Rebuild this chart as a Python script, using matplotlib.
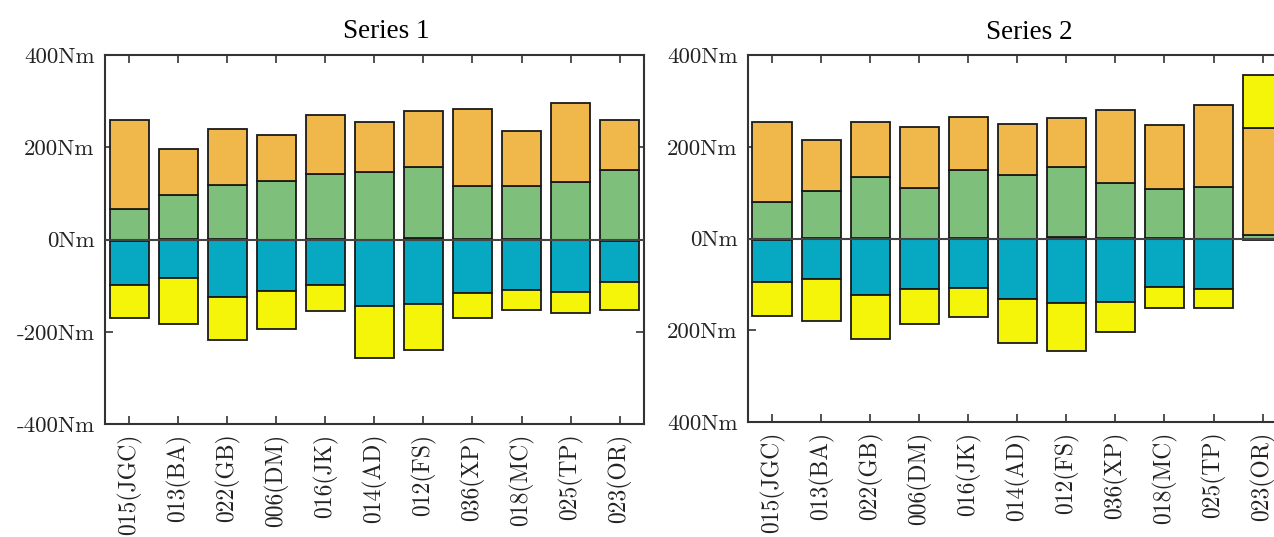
import numpy as np
import matplotlib
matplotlib.use('Agg')
import matplotlib.pyplot as plt

plt.rcParams['font.family'] = ['cmr10', 'DejaVu Serif']
plt.rcParams['axes.formatter.use_mathtext'] = True

# ---- data (segment heights, Nm) ----
labels = ['015(JGC)', '013(BA)', '022(GB)', '006(DM)', '016(JK)', '014(AD)',
          '012(FS)', '036(XP)', '018(MC)', '025(TP)', '023(OR)']

dark1 = [-4, 1, 1, 0, 1, 0, 3, 1, 1, 0, -3]
green1 = [66, 95, 117, 126, 140, 147, 155, 116, 116, 125, 151]
orange1 = [192, 101, 122, 101, 129, 107, 121, 166, 118, 170, 108]
cyan1 = [-95, -83, -125, -112, -99, -144, -140, -116, -109, -114, -89]
yellow1 = [-71, -100, -92, -83, -57, -113, -99, -54, -43, -46, -60]

dark2 = [-4, 1, 1, 0, 1, 0, 3, 1, 1, 0, -4]
green2 = [79, 102, 133, 110, 148, 139, 153, 120, 107, 113, 8]
orange2 = [176, 112, 121, 134, 116, 111, 108, 160, 139, 179, 233]
cyan2 = [-91, -88, -124, -110, -107, -131, -141, -139, -105, -110, 0]
yellow2 = [-74, -91, -95, -77, -65, -97, -104, -65, -47, -42, 115]

yticks = [-400, -200, 0, 200, 400]
ytick_labels1 = ['-400Nm', '-200Nm', '0Nm', '200Nm', '400Nm']
ytick_labels2 = ['400Nm', '200Nm', '0Nm', '200Nm', '400Nm']

colors = ['#111111', '#7DBF7B', '#F0B74A', '#07A8C2', '#F5F50A']


def stacked(ax, segs):
    x = np.arange(1, len(labels) + 1)
    pos = np.zeros(len(x))
    neg = np.zeros(len(x))
    for vals, c in zip(segs, colors):
        v = np.array(vals, dtype=float)
        bottom = np.where(v >= 0, pos, neg)
        ax.bar(x, v, 0.8, bottom=bottom, color=c, edgecolor='#1a1a1a',
               linewidth=1.3, zorder=2)
        pos = np.where(v >= 0, pos + v, pos)
        neg = np.where(v < 0, neg + v, neg)
    ax.axhline(0, color='#444444', lw=1.5, zorder=3)
    ax.set_xlim(0.5, 11.5)
    ax.set_ylim(-400, 400)
    ax.set_xticks(x)
    ax.set_xticklabels(labels, rotation=90)
    ax.set_yticks(yticks)
    ax.tick_params(direction='in', top=True, right=True, length=6,
                   width=1.2, labelsize=16.5, colors='#333333',
                   labelcolor='#222222')
    ax.tick_params(axis='y', pad=7)
    ax.tick_params(axis='x', pad=7, labelsize=17)
    for s in ax.spines.values():
        s.set_linewidth(1.5)
        s.set_color('#333333')


fig = plt.figure(figsize=(12.74, 5.37), dpi=100)
ax1 = fig.add_axes([0.0821, 0.2104, 0.4235, 0.6872])
ax2 = fig.add_axes([0.5868, 0.2142, 0.4235, 0.6829])

stacked(ax1, [dark1, green1, orange1, cyan1, yellow1])
ax1.set_yticklabels(ytick_labels1)
ax1.set_title('Series 1', fontsize=19.5, pad=12, x=0.522,
              family=['Liberation Serif'])

stacked(ax2, [dark2, green2, orange2, cyan2, yellow2])
ax2.set_yticklabels(ytick_labels2)
ax2.set_title('Series 2', fontsize=19.5, pad=12, x=0.522,
              family=['Liberation Serif'])

fig.savefig('out.png', dpi=100)
